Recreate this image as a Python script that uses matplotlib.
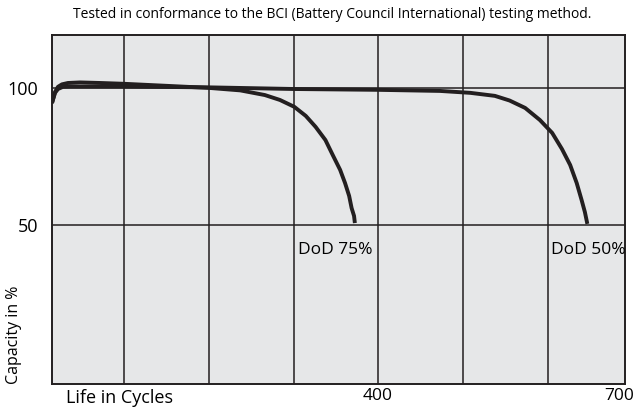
import matplotlib
matplotlib.use("Agg")
import matplotlib.pyplot as plt

plt.rcParams['font.family'] = ['Open Sans', 'DejaVu Sans']

# cycles vs capacity (%)
dod75_cycles = [0, 3.7, 7.3, 12.2, 19.5, 34.2, 58.6, 88, 144, 192, 230, 260, 278.5, 296,
                310, 322, 334, 343, 352, 358, 363, 366, 369, 370]
dod75_capacity = [94.5, 98.5, 100.4, 101.3, 101.8, 102.0, 101.8, 101.5, 100.7, 100, 99.1,
                  97.4, 95.6, 93.1, 89.8, 85.8, 81.0, 75.5, 70.1, 65.3, 60.6, 56.2, 53.3, 50.7]

dod50_cycles = [0, 3.7, 7.3, 13.4, 22, 88, 192, 296, 398, 474, 511, 541, 559, 578,
                596, 611, 623, 633, 641, 647, 651, 654]
dod50_capacity = [94.5, 98.2, 99.6, 100.4, 100.5, 100.5, 100.2, 99.6, 99.3, 98.9, 98.2,
                  97.1, 95.4, 92.7, 88.3, 83.6, 77.7, 71.9, 65.3, 59.1, 54.7, 50.4]

grid_x = [88, 192, 296, 398, 502, 606]
grid_y = [50, 100]
x_tick_pos = [398, 693]
x_tick_labels = ['400', '700']
y_ticks = [50, 100]

line_col = '#231f20'

fig = plt.figure(figsize=(6.36, 4.08), dpi=100)
ax = fig.add_axes([52 / 636, 24 / 408, 573 / 636, 349 / 408])
ax.set_facecolor('#e6e7e8')
ax.set_xlim(0, 700)
ax.set_ylim(-8, 119.3)

for gx in grid_x:
    ax.axvline(gx, color=line_col, lw=1.1, zorder=1)
for gy in grid_y:
    ax.axhline(gy, color=line_col, lw=1.1, zorder=1)

for xs, ys in [(dod75_cycles, dod75_capacity), (dod50_cycles, dod50_capacity)]:
    ax.plot(xs, ys, color=line_col, lw=2.8, solid_capstyle='butt',
            solid_joinstyle='round', zorder=3)

for s in ax.spines.values():
    s.set_color(line_col)
    s.set_linewidth(1.4)

ax.set_xticks(x_tick_pos)
ax.set_xticklabels(x_tick_labels, fontsize=12.5)
ax.set_yticks(y_ticks)
ax.set_yticklabels([str(t) for t in y_ticks], fontsize=13)
ax.tick_params(axis='y', length=0, pad=10)
ax.tick_params(axis='x', length=0, pad=3)

fig.text(66 / 636, 1 - 403 / 408, 'Life in Cycles', fontsize=13,
         ha='left', va='baseline')
fig.text(14 / 636, 24 / 408, 'Capacity in %', rotation=90, fontsize=11.5,
         ha='center', va='bottom')
fig.text(332 / 636, 1 - 14 / 408,
         'Tested in conformance to the BCI (Battery Council International) testing method.',
         fontsize=10, ha='center', va='center')

ax.text(300, 39.4, 'DoD 75%', fontsize=12.5, ha='left', va='baseline')
ax.text(609, 39.4, 'DoD 50%', fontsize=12.5, ha='left', va='baseline')

fig.savefig('out.png', dpi=100)
